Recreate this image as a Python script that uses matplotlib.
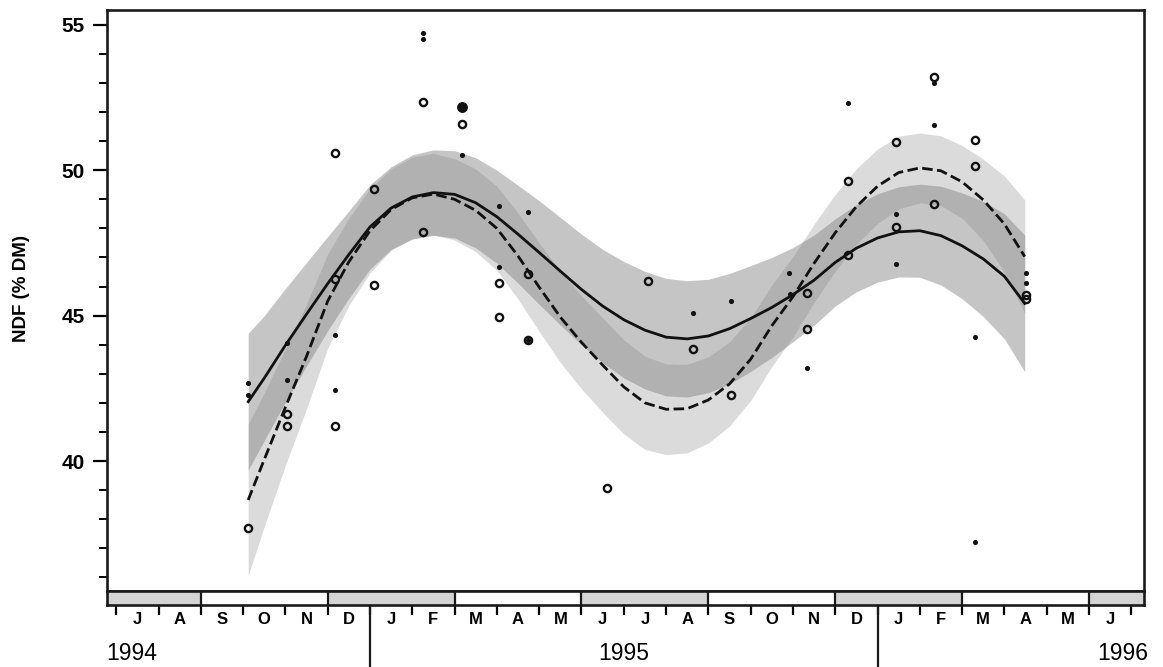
import matplotlib
matplotlib.use('Agg')
import matplotlib.pyplot as plt
import matplotlib.transforms as mtransforms
import numpy as np

plt.rcParams['font.family'] = ['Liberation Sans', 'DejaVu Sans']

# x is in months counted from 1 Jan 1994 (Jan 1995 = 12, Jan 1996 = 24)
X_LEFT, X_RIGHT = 5.775, 30.30
Y_LOW, Y_HIGH = 35.53, 55.51

# ---- sampled NDF values -------------------------------------------------
circle_month = [9.12, 10.03, 10.03, 11.18, 11.18, 11.18, 12.10, 12.10, 13.25, 13.25,
                14.17, 15.06, 15.06, 15.74, 15.74, 17.60, 18.58, 19.63, 20.53, 22.34,
                22.34, 23.30, 23.30, 24.44, 24.44, 25.34, 25.34, 26.30, 26.30, 27.50, 27.50]
circle_ndf = [37.71, 41.62, 41.19, 50.60, 46.25, 41.20, 49.36, 46.05, 52.34, 47.89,
              51.59, 46.12, 44.96, 46.43, 44.16, 39.06, 46.19, 43.86, 42.27, 45.77,
              44.55, 49.62, 47.09, 50.97, 48.04, 53.20, 48.83, 51.04, 50.15, 45.70, 45.58]

dot_month = [9.12, 9.12, 10.03, 10.03, 11.18, 11.18, 13.25, 13.25, 14.17, 15.06,
             15.06, 15.74, 15.74, 19.63, 20.53, 21.90, 21.93, 22.34, 23.30, 24.44,
             24.44, 25.34, 25.34, 26.30, 26.30, 27.50, 27.50]
dot_ndf = [42.69, 42.28, 44.06, 42.79, 44.33, 42.45, 54.71, 54.51, 50.52, 48.77,
           46.66, 48.56, 44.16, 45.08, 45.51, 46.46, 45.75, 43.21, 52.30, 48.50,
           46.77, 53.00, 51.56, 44.28, 37.22, 46.46, 46.11]

big_month = [14.17]
big_ndf = [52.17]

# ---- fitted seasonal curves and their confidence half-widths --------------
fit_month = [9.12, 9.5, 10.0, 10.5, 11.0, 11.5, 12.0, 12.5, 13.0, 13.5,
             14.0, 14.5, 15.0, 15.5, 16.0, 16.5, 17.0, 17.5, 18.0, 18.5,
             19.0, 19.5, 20.0, 20.5, 21.0, 21.5, 22.0, 22.5, 23.0, 23.5,
             24.0, 24.5, 25.0, 25.5, 26.0, 26.5, 27.0, 27.48]
fit_solid = [42.04, 42.85, 43.98, 45.05, 46.10, 47.10, 48.05, 48.70, 49.08, 49.23,
             49.17, 48.88, 48.40, 47.80, 47.17, 46.53, 45.90, 45.33, 44.86, 44.50,
             44.26, 44.20, 44.30, 44.55, 44.90, 45.28, 45.72, 46.22, 46.83, 47.32,
             47.67, 47.88, 47.92, 47.75, 47.40, 46.95, 46.35, 45.42]
fit_dashed = [38.66, 40.05, 41.85, 43.60, 45.50, 46.85, 47.92, 48.65, 49.05, 49.18,
              49.00, 48.62, 48.00, 47.05, 45.98, 44.95, 44.08, 43.30, 42.55, 42.00,
              41.78, 41.80, 42.10, 42.65, 43.50, 44.65, 45.65, 46.80, 47.85, 48.75,
              49.45, 49.92, 50.08, 49.98, 49.60, 48.98, 48.15, 47.03]
ci_solid = [2.35, 2.15, 1.95, 1.78, 1.62, 1.50, 1.45, 1.42, 1.45, 1.47,
            1.50, 1.55, 1.60, 1.68, 1.78, 1.85, 1.90, 1.95, 2.00, 2.02,
            2.02, 2.00, 1.95, 1.90, 1.82, 1.72, 1.62, 1.55, 1.50, 1.50,
            1.52, 1.55, 1.60, 1.70, 1.82, 1.98, 2.15, 2.35]
ci_dashed = [2.60, 2.30, 2.00, 1.80, 1.62, 1.50, 1.45, 1.40, 1.40, 1.40,
             1.40, 1.42, 1.45, 1.48, 1.52, 1.56, 1.60, 1.62, 1.62, 1.60,
             1.56, 1.52, 1.48, 1.45, 1.42, 1.40, 1.38, 1.35, 1.32, 1.30,
             1.28, 1.25, 1.20, 1.20, 1.25, 1.40, 1.65, 1.95]

# ---- calendar strip ------------------------------------------------------
month_letters = ['J', 'A', 'S', 'O', 'N', 'D', 'J', 'F', 'M', 'A', 'M', 'J',
                 'J', 'A', 'S', 'O', 'N', 'D', 'J', 'F', 'M', 'A', 'M', 'J']
first_month = 6                     # July 1994
season_edges = [8, 11, 14, 17, 20, 23, 26, 29]
shaded_seasons = [(X_LEFT, 8), (11, 14), (17, 20), (23, 26), (29, X_RIGHT)]
year_boundaries = [12, 24]
years = ['1994', '1995', '1996']

W, H = 1163, 667
fig = plt.figure(figsize=(W / 100, H / 100), dpi=100)
L_PX, R_PX, T_PX, B_PX, STRIP_PX = 106.7, 1144, 10, 591, 605
ax = fig.add_axes([L_PX / W, 1 - B_PX / H, (R_PX - L_PX) / W, (B_PX - T_PX) / H])
axs = fig.add_axes([L_PX / W, 1 - STRIP_PX / H, (R_PX - L_PX) / W, (STRIP_PX - B_PX) / H])

fm = np.array(fit_month)
fs, fd = np.array(fit_solid), np.array(fit_dashed)
cs, cd = np.array(ci_solid), np.array(ci_dashed)

ax.fill_between(fm, fd - cd, fd + cd, color='#7a7a7a', alpha=0.27, lw=0, zorder=1)
ax.fill_between(fm, fs - cs, fs + cs, color='#7a7a7a', alpha=0.43, lw=0, zorder=1)
ax.plot(fm, fs, color='#111111', lw=2.0, zorder=3, solid_joinstyle='round')
ax.plot(fm, fd, color='#111111', lw=2.0, zorder=3, dashes=(3.8, 1.6))

ax.plot(circle_month, circle_ndf, 'o', ms=5.2, mfc='none', mec='#111111', mew=1.7, zorder=4)
ax.plot(dot_month, dot_ndf, 'o', ms=3.7, mfc='#111111', mec='none', zorder=5)
ax.plot(big_month, big_ndf, 'o', ms=7.0, mfc='#111111', mec='#111111', mew=0.8, zorder=5)

ax.set_xlim(X_LEFT, X_RIGHT)
ax.set_ylim(Y_LOW, Y_HIGH)
ax.set_xticks([])
ax.set_yticks([40, 45, 50, 55])
ax.set_yticks(np.arange(36, 56), minor=True)
ax.tick_params(axis='y', which='major', direction='out', length=10, width=1.6,
               labelsize=15, pad=6)
ax.tick_params(axis='y', which='minor', direction='out', length=6, width=1.4)
for lab in ax.get_yticklabels():
    lab.set_fontweight('bold')
for sp in ax.spines.values():
    sp.set_linewidth(1.9)
    sp.set_color('#1a1a1a')

fig.text(22 / W, 1 - 289 / H, 'NDF (% DM)', rotation=90, ha='center', va='center',
         fontsize=13.5, fontweight='bold')

# calendar strip: seasonal blocks, month ticks and year dividers
axs.set_xlim(X_LEFT, X_RIGHT)
axs.set_ylim(0, 1)
for a, b in shaded_seasons:
    axs.axvspan(a, b, color='#d4d4d4', lw=0)
for e in season_edges:
    axs.axvline(e, color='#1a1a1a', lw=1.6)
for sp in axs.spines.values():
    sp.set_linewidth(1.9)
    sp.set_color('#1a1a1a')
axs.set_yticks([])
axs.set_xticks(np.arange(first_month, first_month + len(month_letters) + 1))
axs.set_xticklabels([])
axs.tick_params(axis='x', which='major', direction='out', length=7, width=1.6)
axs.set_xticks(np.arange(first_month, first_month + len(month_letters)) + 0.5, minor=True)
axs.set_xticklabels(month_letters, minor=True, fontsize=12, fontweight='bold')
axs.tick_params(axis='x', which='minor', length=0, pad=5)

trans = mtransforms.blended_transform_factory(axs.transData, axs.transAxes)
axs.vlines(year_boundaries, -4.6, 0, transform=trans, color='#1a1a1a', lw=1.6, clip_on=False)
axs.text(X_LEFT, -3.5, years[0], transform=trans, ha='left', va='center', fontsize=16.5)
axs.text(18, -3.5, years[1], transform=trans, ha='center', va='center', fontsize=16.5)
axs.text(X_RIGHT + 0.1, -3.5, years[2], transform=trans, ha='right', va='center', fontsize=16.5)

fig.savefig('out.png', dpi=100)
